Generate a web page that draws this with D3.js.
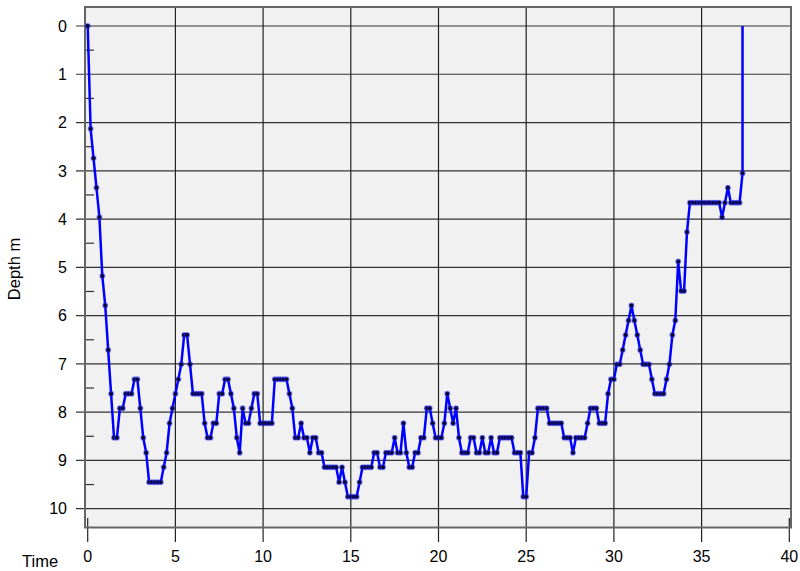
<!DOCTYPE html>
<html>
<head>
<meta charset="utf-8">
<script src="https://cdn.jsdelivr.net/npm/d3@7"></script>
<style>
  body { margin: 0; background: #fff; }
  svg { font-family: "Liberation Sans", Arial, sans-serif; }
</style>
</head>
<body>
<svg id="chart" width="800" height="571"></svg>
<script>
// dive profile, one sample every 10 s (time in minutes)
const sampleStep = 1 / 6;
const depths = [
  0, 2.13, 2.74, 3.35, 3.96, 5.18, 5.79, 6.71, 7.62, 8.53,
  8.53, 7.92, 7.92, 7.62, 7.62, 7.62, 7.32, 7.32, 7.92, 8.53,
  8.84, 9.45, 9.45, 9.45, 9.45, 9.45, 9.14, 8.84, 8.23, 7.92,
  7.62, 7.32, 7.01, 6.40, 6.40, 7.01, 7.62, 7.62, 7.62, 7.62,
  8.23, 8.53, 8.53, 8.23, 8.23, 7.62, 7.62, 7.32, 7.32, 7.62,
  7.92, 8.53, 8.84, 7.92, 8.23, 8.23, 7.92, 7.62, 7.62, 8.23,
  8.23, 8.23, 8.23, 8.23, 7.32, 7.32, 7.32, 7.32, 7.32, 7.62,
  7.92, 8.53, 8.53, 8.23, 8.53, 8.53, 8.84, 8.53, 8.53, 8.84,
  8.84, 9.14, 9.14, 9.14, 9.14, 9.14, 9.45, 9.14, 9.45, 9.75,
  9.75, 9.75, 9.75, 9.45, 9.14, 9.14, 9.14, 9.14, 8.84, 8.84,
  9.14, 9.14, 8.84, 8.84, 8.84, 8.53, 8.84, 8.84, 8.23, 8.84,
  9.14, 9.14, 8.84, 8.84, 8.53, 8.53, 7.92, 7.92, 8.23, 8.53,
  8.53, 8.53, 8.23, 7.62, 7.92, 8.23, 7.92, 8.53, 8.84, 8.84,
  8.84, 8.53, 8.53, 8.84, 8.84, 8.53, 8.84, 8.84, 8.53, 8.84,
  8.84, 8.53, 8.53, 8.53, 8.53, 8.53, 8.84, 8.84, 8.84, 9.75,
  9.75, 8.84, 8.84, 8.53, 7.92, 7.92, 7.92, 7.92, 8.23, 8.23,
  8.23, 8.23, 8.23, 8.53, 8.53, 8.53, 8.84, 8.53, 8.53, 8.53,
  8.53, 8.23, 7.92, 7.92, 7.92, 8.23, 8.23, 8.23, 7.62, 7.32,
  7.32, 7.01, 7.01, 6.71, 6.40, 6.10, 5.79, 6.10, 6.40, 6.71,
  7.01, 7.01, 7.01, 7.32, 7.62, 7.62, 7.62, 7.62, 7.32, 7.01,
  6.40, 6.10, 4.88, 5.49, 5.49, 4.27, 3.66, 3.66, 3.66, 3.66,
  3.66, 3.66, 3.66, 3.66, 3.66, 3.66, 3.66, 3.96, 3.66, 3.35,
  3.66, 3.66, 3.66, 3.66, 3.05
];
const surfaceDepth = 0; // ascent to surface after last sample (no marker)

const xTicks = [0, 5, 10, 15, 20, 25, 30, 35, 40];
const yTicks = [0, 1, 2, 3, 4, 5, 6, 7, 8, 9, 10];
const yMinorTicks = [0.5, 1.5, 2.5, 3.5, 4.5, 5.5, 6.5, 7.5, 8.5, 9.5];
const xLabel = "Time";
const yLabel = "Depth m";

const samples = depths.map((d, i) => ({ t: i * sampleStep, d }));
const lineData = samples.concat([{ t: samples[samples.length - 1].t, d: surfaceDepth }]);

const svg = d3.select("#chart");
const frame = { left: 85, top: 7, right: 791, bottom: 527.5 };

const x = d3.scaleLinear().domain([0, 40]).range([87.7, 789.3]);
const y = d3.scaleLinear().domain([0, 10]).range([26, 508.7]);

// plot background
svg.append("rect")
  .attr("x", frame.left).attr("y", frame.top)
  .attr("width", frame.right - frame.left)
  .attr("height", frame.bottom - frame.top)
  .attr("fill", "#f1f1f1");

// horizontal grid + major ticks
svg.append("g").selectAll("line")
  .data(yTicks)
  .join("line")
  .attr("x1", 76).attr("x2", frame.right)
  .attr("y1", d => y(d)).attr("y2", d => y(d))
  .attr("stroke", "#333").attr("stroke-width", 1.2);

// minor y ticks
svg.append("g").selectAll("line")
  .data(yMinorTicks)
  .join("line")
  .attr("x1", frame.left).attr("x2", 94)
  .attr("y1", d => y(d)).attr("y2", d => y(d))
  .attr("stroke", "#333").attr("stroke-width", 1.2);

// vertical grid, running down into the tick marks
svg.append("g").selectAll("line")
  .data(xTicks)
  .join("line")
  .attr("x1", d => x(d)).attr("x2", d => x(d))
  .attr("y1", d => (d === 0 || d === 40) ? 518 : frame.top)
  .attr("y2", 542)
  .attr("stroke", "#222").attr("stroke-width", 1.2);

// frame
svg.append("rect")
  .attr("x", frame.left).attr("y", frame.top)
  .attr("width", frame.right - frame.left)
  .attr("height", frame.bottom - frame.top)
  .attr("fill", "none")
  .attr("stroke", "#666").attr("stroke-width", 2);

// tick labels
svg.append("g").selectAll("text")
  .data(yTicks)
  .join("text")
  .attr("x", 67).attr("y", d => y(d))
  .attr("dy", "0.36em")
  .attr("text-anchor", "end")
  .attr("font-size", 16)
  .text(d => d);

svg.append("g").selectAll("text")
  .data(xTicks)
  .join("text")
  .attr("x", d => x(d)).attr("y", 562)
  .attr("text-anchor", "middle")
  .attr("font-size", 16)
  .text(d => d);

svg.append("text")
  .attr("x", 22).attr("y", 567)
  .attr("font-size", 16.5)
  .text(xLabel);

svg.append("text")
  .attr("transform", "translate(20,269) rotate(-90)")
  .attr("text-anchor", "middle")
  .attr("font-size", 16.5)
  .text(yLabel);

// profile line
const line = d3.line().x(d => x(d.t)).y(d => y(d.d));
svg.append("path")
  .datum(lineData)
  .attr("d", line)
  .attr("fill", "none")
  .attr("stroke", "#0000ff")
  .attr("stroke-width", 2.5)
  .attr("stroke-linejoin", "round");

svg.append("g").selectAll("circle")
  .data(samples)
  .join("circle")
  .attr("cx", d => x(d.t))
  .attr("cy", d => y(d.d))
  .attr("r", 2.2)
  .attr("fill", "#000020")
  .attr("stroke", "rgba(40,40,255,0.5)")
  .attr("stroke-width", 1.6);
</script>
</body>
</html>
